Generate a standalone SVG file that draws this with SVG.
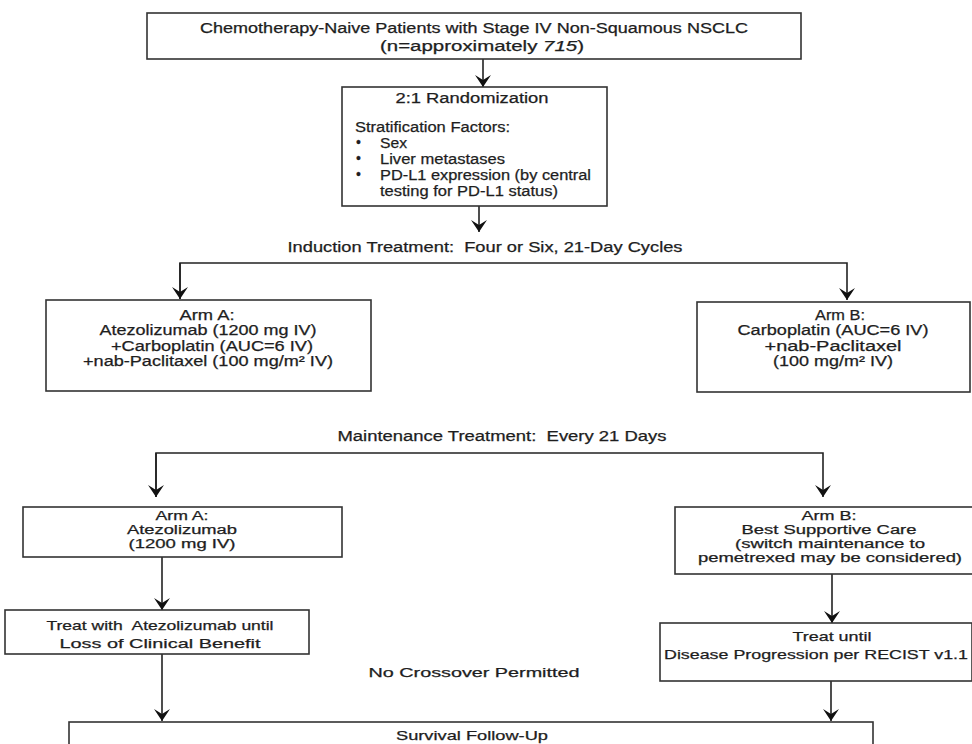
<svg xmlns="http://www.w3.org/2000/svg" width="972" height="744" viewBox="0 0 972 744">
<style>
.box{fill:#fff;stroke:#333;stroke-width:1.6}
.t{font-family:"Liberation Sans",Arial,sans-serif;font-size:14px;fill:#1e1e1e;stroke:#1e1e1e;stroke-width:0.25;text-anchor:middle}
.l{text-anchor:start}
.n{font-size:13px}
.s{font-size:12px}
.c{stroke:#222;stroke-width:1.6;fill:none}
</style>
<defs>
<marker id="ah" viewBox="0 0 12 16" refX="12" refY="8" markerWidth="12" markerHeight="16" markerUnits="userSpaceOnUse" orient="auto">
<path d="M0,0 L12,8 L0,16 L5,8 Z" fill="#111"/>
</marker>
</defs>
<rect width="972" height="744" fill="#fff"/>
<g id="connectors">
<path class="c" d="M483,59 V87" marker-end="url(#ah)"/>
<path class="c" d="M479,206 V232" marker-end="url(#ah)"/>
<path class="c" d="M180,299 V263 H847 V300" marker-end="url(#ah)"/>
<path class="c" d="M180,263 V299" marker-end="url(#ah)"/>
<path class="c" d="M156,497 V453 H823 V497" marker-end="url(#ah)"/>
<path class="c" d="M156,453 V497" marker-end="url(#ah)"/>
<path class="c" d="M162,557 V610" marker-end="url(#ah)"/>
<path class="c" d="M162,654 V721" marker-end="url(#ah)"/>
<path class="c" d="M832,574 V623" marker-end="url(#ah)"/>
<path class="c" d="M831,681 V721" marker-end="url(#ah)"/>
</g>
<g id="top">
<rect class="box" x="147" y="13" width="654" height="46"/>
<text class="t" x="474" y="33" textLength="548" lengthAdjust="spacingAndGlyphs">Chemotherapy-Naive Patients with Stage IV Non-Squamous NSCLC</text>
<text class="t" x="482" y="51" textLength="204" lengthAdjust="spacingAndGlyphs">(n=approximately <tspan font-style="italic">715</tspan>)</text>
</g>
<g id="randomization">
<rect class="box" x="342" y="87" width="265" height="119"/>
<text class="t" x="472" y="103" font-size="16" textLength="153" lengthAdjust="spacingAndGlyphs">2:1 Randomization</text>
<text class="t l" x="355" y="132" font-size="13" textLength="155" lengthAdjust="spacingAndGlyphs">Stratification Factors:</text>
<text class="t l" x="356" y="147" font-size="11">•</text>
<text class="t l" x="356" y="163" font-size="11">•</text>
<text class="t l" x="356" y="179" font-size="11">•</text>
<text class="t l" x="380" y="148" font-size="13" textLength="27" lengthAdjust="spacingAndGlyphs">Sex</text>
<text class="t l" x="380" y="164" font-size="13" textLength="125" lengthAdjust="spacingAndGlyphs">Liver metastases</text>
<text class="t l" x="380" y="180" font-size="13" textLength="211" lengthAdjust="spacingAndGlyphs">PD-L1 expression (by central</text>
<text class="t l" x="380" y="196" font-size="13" textLength="178" lengthAdjust="spacingAndGlyphs">testing for PD-L1 status)</text>
</g>
<g id="induction-label">
<text class="t" x="485" y="252" xml:space="preserve" textLength="395" lengthAdjust="spacingAndGlyphs">Induction Treatment:  Four or Six, 21-Day Cycles</text>
</g>
<g id="arm-a-induction">
<rect class="box" x="46" y="300" width="325" height="91"/>
<text class="t" x="207" y="320" textLength="55" lengthAdjust="spacingAndGlyphs">Arm A:</text>
<text class="t" x="208" y="335" textLength="217" lengthAdjust="spacingAndGlyphs">Atezolizumab (1200 mg IV)</text>
<text class="t" x="212" y="351" textLength="202" lengthAdjust="spacingAndGlyphs">+Carboplatin (AUC=6 IV)</text>
<text class="t" x="208" y="366" textLength="250" lengthAdjust="spacingAndGlyphs">+nab-Paclitaxel (100 mg/m² IV)</text>
</g>
<g id="arm-b-induction">
<rect class="box" x="697" y="302" width="273" height="90"/>
<text class="t" x="840" y="320" textLength="50" lengthAdjust="spacingAndGlyphs">Arm B:</text>
<text class="t" x="833" y="335" textLength="191" lengthAdjust="spacingAndGlyphs">Carboplatin (AUC=6 IV)</text>
<text class="t" x="833" y="351" textLength="137" lengthAdjust="spacingAndGlyphs">+nab-Paclitaxel</text>
<text class="t" x="833" y="366" textLength="120" lengthAdjust="spacingAndGlyphs">(100 mg/m² IV)</text>
</g>
<g id="maintenance-label">
<text class="t" x="502" y="441" xml:space="preserve" textLength="329" lengthAdjust="spacingAndGlyphs">Maintenance Treatment:  Every 21 Days</text>
</g>
<g id="arm-a-maintenance">
<rect class="box" x="23" y="507" width="319" height="50"/>
<text class="t s" x="182" y="520" textLength="53" lengthAdjust="spacingAndGlyphs">Arm A:</text>
<text class="t s" x="182" y="534" textLength="110" lengthAdjust="spacingAndGlyphs">Atezolizumab</text>
<text class="t s" x="182" y="548" textLength="107" lengthAdjust="spacingAndGlyphs">(1200 mg IV)</text>
</g>
<g id="arm-b-maintenance">
<rect class="box" x="675" y="507" width="310" height="67"/>
<text class="t s" x="829" y="520" textLength="55" lengthAdjust="spacingAndGlyphs">Arm B:</text>
<text class="t s" x="829" y="534" textLength="175" lengthAdjust="spacingAndGlyphs">Best Supportive Care</text>
<text class="t s" x="830" y="548" textLength="190" lengthAdjust="spacingAndGlyphs">(switch maintenance to</text>
<text class="t s" x="830" y="562" textLength="264" lengthAdjust="spacingAndGlyphs">pemetrexed may be considered)</text>
</g>
<g id="treat-a">
<rect class="box" x="5" y="610" width="304" height="44"/>
<text class="t n" x="160" y="630" xml:space="preserve" textLength="227" lengthAdjust="spacingAndGlyphs">Treat with  Atezolizumab until</text>
<text class="t n" x="160" y="648" textLength="201" lengthAdjust="spacingAndGlyphs">Loss of Clinical Benefit</text>
</g>
<g id="treat-b">
<rect class="box" x="660" y="623" width="312" height="58"/>
<text class="t n" x="832" y="641" textLength="79" lengthAdjust="spacingAndGlyphs">Treat until</text>
<text class="t n" x="816" y="659" textLength="304" lengthAdjust="spacingAndGlyphs">Disease Progression per RECIST v1.1</text>
</g>
<g id="no-crossover">
<text class="t n" x="474" y="677" textLength="211" lengthAdjust="spacingAndGlyphs">No Crossover Permitted</text>
</g>
<g id="survival">
<rect class="box" x="69" y="722" width="804" height="40"/>
<text class="t n" x="472" y="740" textLength="152" lengthAdjust="spacingAndGlyphs">Survival Follow-Up</text>
</g>
</svg>
